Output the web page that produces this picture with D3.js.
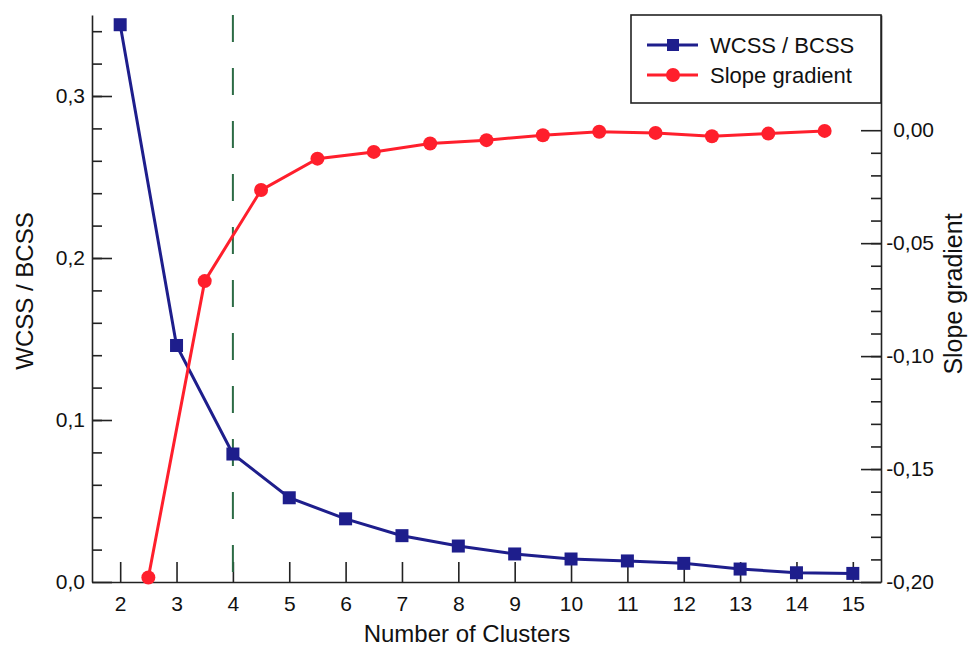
<!DOCTYPE html>
<html>
<head>
<meta charset="utf-8">
<script src="https://cdn.jsdelivr.net/npm/d3@7"></script>
<style>
    body { margin: 0; background: #fff; }
    svg { display: block; font-family: "Liberation Sans", Arial, sans-serif; }
</style>
</head>
<body>
<div id="chartCt"></div>
<script>
// number of clusters (x of the WCSS/BCSS points)
var clusters = [2, 3, 4, 5, 6, 7, 8, 9, 10, 11, 12, 13, 14, 15];
var wcssBcss = [0.344, 0.146, 0.079, 0.052, 0.039, 0.0286, 0.0222, 0.0173, 0.0142, 0.013, 0.0115, 0.008, 0.0057, 0.0053];

// slope gradient sits halfway between cluster counts
var slopeX = [2.5, 3.5, 4.5, 5.5, 6.5, 7.5, 8.5, 9.5, 10.5, 11.5, 12.5, 13.5, 14.5];
var slopeGradient = [-0.198, -0.0668, -0.0265, -0.0126, -0.0096, -0.0059, -0.0044, -0.0022, -0.0007, -0.0012, -0.0027, -0.0015, -0.0003];

var xTicks = [2, 3, 4, 5, 6, 7, 8, 9, 10, 11, 12, 13, 14, 15];
var leftTicks = [0, 0.1, 0.2, 0.3];
var leftTickLabels = ["0,0", "0,1", "0,2", "0,3"];
var rightTicks = [-0.2, -0.15, -0.1, -0.05, 0];
var rightTickLabels = ["-0,20", "-0,15", "-0,10", "-0,05", "0,00"];
var optimalK = 4;

var seriesNames = ["WCSS / BCSS", "Slope gradient"];

var totalW = 970, totalH = 648;
var margin = { top: 15, right: 89, bottom: 66, left: 92 };
var width = totalW - margin.left - margin.right,
    height = totalH - margin.top - margin.bottom;

var blue = "#1e1e8c", red = "#ff1f2c", green = "#2c6b45", axisCol = "#222";

var svg = d3.select("#chartCt")
    .append("svg")
    .attr("width", totalW)
    .attr("height", totalH)
    .append("g")
    .attr("transform", "translate(" + margin.left + "," + margin.top + ")");

var x = d3.scaleLinear().domain([1.5, 15.5]).range([0, width]);
var yL = d3.scaleLinear().domain([0, 0.35]).range([height, 0]);
var yR = d3.scaleLinear().domain([-0.2, 0.051]).range([height, 0]);

function styleAxis(g) {
    g.selectAll("path, line").attr("stroke", axisCol).attr("stroke-width", 1.6);
    g.selectAll("text").attr("fill", "#111").style("font-size", "21px").style("font-family", "'Liberation Sans', Arial, sans-serif");
}

// minor ticks first
svg.append("g")
    .call(d3.axisLeft(yL).tickValues(d3.range(0.02, 0.35, 0.02)).tickSize(-10).tickFormat(""))
    .call(styleAxis)
    .select(".domain").remove();

svg.append("g")
    .attr("transform", "translate(" + width + ",0)")
    .call(d3.axisRight(yR).tickValues(d3.range(-0.19, -0.005, 0.01)).tickSize(-10).tickFormat(""))
    .call(styleAxis)
    .select(".domain").remove();

// x axis
svg.append("g")
    .attr("transform", "translate(0," + height + ")")
    .call(d3.axisBottom(x).tickValues(xTicks).tickSize(-20).tickSizeOuter(0).tickPadding(14).tickFormat(d3.format("d")))
    .call(styleAxis);

// left axis
svg.append("g")
    .call(d3.axisLeft(yL).tickValues(leftTicks).tickSize(-20).tickSizeOuter(0).tickPadding(7)
        .tickFormat(function (d, i) { return leftTickLabels[i]; }))
    .call(styleAxis);

// right axis
var rAxis = svg.append("g")
    .attr("transform", "translate(" + width + ",0)")
    .call(d3.axisRight(yR).tickValues(rightTicks).tickSize(-20).tickSizeOuter(0)
        .tickFormat(function (d, i) { return rightTickLabels[i]; }))
    .call(styleAxis);
rAxis.selectAll("text").attr("text-anchor", "end").attr("x", 53);

// optimum marker
svg.append("line")
    .attr("x1", x(optimalK)).attr("x2", x(optimalK))
    .attr("y1", 0).attr("y2", height)
    .attr("stroke", green)
    .attr("stroke-width", 2)
    .attr("stroke-dasharray", "27,26");

// WCSS / BCSS
var wcssData = clusters.map(function (c, i) { return { x: c, y: wcssBcss[i] }; });
svg.append("path")
    .datum(wcssData)
    .attr("fill", "none")
    .attr("stroke", blue)
    .attr("stroke-width", 3)
    .attr("d", d3.line().x(function (d) { return x(d.x); }).y(function (d) { return yL(d.y); }));
svg.selectAll(".sq")
    .data(wcssData)
    .enter().append("rect")
    .attr("x", function (d) { return x(d.x) - 6.5; })
    .attr("y", function (d) { return yL(d.y) - 6.5; })
    .attr("width", 13)
    .attr("height", 13)
    .attr("fill", blue);

// slope gradient
var slopeData = slopeX.map(function (s, i) { return { x: s, y: slopeGradient[i] }; });
svg.append("path")
    .datum(slopeData)
    .attr("fill", "none")
    .attr("stroke", red)
    .attr("stroke-width", 3)
    .attr("d", d3.line().x(function (d) { return x(d.x); }).y(function (d) { return yR(d.y); }));
svg.selectAll(".dot")
    .data(slopeData)
    .enter().append("circle")
    .attr("cx", function (d) { return x(d.x); })
    .attr("cy", function (d) { return yR(d.y); })
    .attr("r", 7)
    .attr("fill", red);

// axis titles
svg.append("text")
    .attr("transform", "translate(" + (467 - margin.left) + "," + (642 - margin.top) + ")")
    .style("text-anchor", "middle")
    .style("font-size", "24px")
    .attr("fill", "#111")
    .text("Number of Clusters");

svg.append("text")
    .attr("transform", "translate(" + (33 - margin.left) + "," + (291 - margin.top) + ") rotate(-90)")
    .style("text-anchor", "middle")
    .style("font-size", "24px")
    .attr("fill", "#111")
    .text("WCSS / BCSS");

svg.append("text")
    .attr("transform", "translate(" + (962 - margin.left) + "," + (294 - margin.top) + ") rotate(-90)")
    .style("text-anchor", "middle")
    .style("font-size", "25px")
    .attr("fill", "#111")
    .text("Slope gradient");

// legend
var lg = svg.append("g").attr("transform", "translate(" + (width - 250) + ",0)");
lg.append("rect")
    .attr("width", 250).attr("height", 88)
    .attr("fill", "#fff")
    .attr("stroke", axisCol).attr("stroke-width", 1.6);

var legendRows = [
    { name: seriesNames[0], color: blue, shape: "square", y: 30 },
    { name: seriesNames[1], color: red, shape: "circle", y: 60 }
];
legendRows.forEach(function (r) {
    lg.append("line")
        .attr("x1", 16).attr("x2", 67)
        .attr("y1", r.y).attr("y2", r.y)
        .attr("stroke", r.color).attr("stroke-width", 3);
    if (r.shape === "square") {
        lg.append("rect").attr("x", 36).attr("y", r.y - 6).attr("width", 12).attr("height", 12).attr("fill", r.color);
    } else {
        lg.append("circle").attr("cx", 42).attr("cy", r.y).attr("r", 7).attr("fill", r.color);
    }
    lg.append("text")
        .attr("x", 79).attr("y", r.y + 8)
        .style("font-size", "22px")
        .attr("fill", "#111")
        .text(r.name);
});
</script>
</body>
</html>
